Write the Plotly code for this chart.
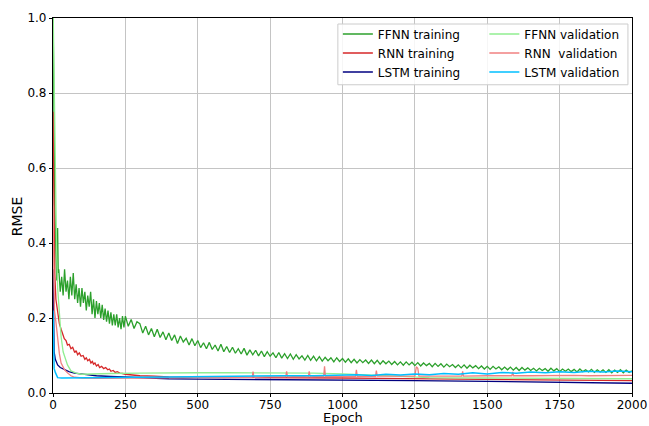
import plotly.graph_objects as go

# ---------------- data ----------------
ffnn_train_epochs = [0, 3, 6, 10, 13, 16, 18] + list(range(20, 250, 5)) + list(range(250, 2001, 10))
ffnn_train_rmse = [
    1.05, 0.75, 0.50, 0.38, 0.30, 0.44, 0.32,
    # 20 .. 245 (step 5)
    0.33, 0.27, 0.31, 0.26, 0.33, 0.27, 0.30, 0.25, 0.31, 0.26,
    0.32, 0.25, 0.29, 0.24, 0.28, 0.23, 0.28, 0.24, 0.27, 0.22,
    0.26, 0.23, 0.27, 0.21, 0.25, 0.20, 0.245, 0.21, 0.24, 0.20,
    0.235, 0.195, 0.225, 0.19, 0.22, 0.185, 0.215, 0.18, 0.21, 0.18,
    0.21, 0.175, 0.20, 0.17, 0.205, 0.175,
    # 250 .. 2000 (step 10)
    0.205, 0.178, 0.196, 0.172, 0.19,
    0.185, 0.16, 0.178, 0.155, 0.172, 0.15, 0.17, 0.148, 0.163, 0.142,
    0.16, 0.14, 0.155, 0.132, 0.152, 0.136, 0.146, 0.128, 0.145, 0.126,
    0.14, 0.121, 0.134, 0.118, 0.135, 0.116, 0.128, 0.112, 0.13, 0.11,
    0.124, 0.108, 0.122, 0.106, 0.118, 0.104, 0.119, 0.101, 0.115, 0.102,
    0.114, 0.099, 0.112, 0.097, 0.11, 0.098, 0.107, 0.094, 0.108, 0.093,
    0.105, 0.092, 0.104, 0.09, 0.102, 0.091, 0.099, 0.088, 0.1, 0.087,
    0.098, 0.086, 0.097, 0.085, 0.095, 0.086, 0.094, 0.083, 0.094, 0.084,
    0.092, 0.082, 0.091, 0.081, 0.09, 0.08, 0.089, 0.081, 0.088, 0.079,
    0.088, 0.078, 0.087, 0.077, 0.086, 0.078, 0.085, 0.076, 0.084, 0.075,
    0.083, 0.074, 0.083, 0.075, 0.082, 0.073, 0.081, 0.072, 0.08, 0.073,
    0.079, 0.07, 0.079, 0.071, 0.078, 0.069, 0.077, 0.07, 0.076, 0.068,
    0.075, 0.067, 0.075, 0.066, 0.074, 0.067, 0.073, 0.065, 0.072, 0.064,
    0.071, 0.063, 0.071, 0.064, 0.07, 0.062, 0.069, 0.062, 0.069, 0.061,
    0.068, 0.06, 0.068, 0.061, 0.067, 0.06, 0.066, 0.059, 0.066, 0.06,
    0.065, 0.058, 0.066, 0.059, 0.065, 0.057, 0.064, 0.058, 0.064, 0.057,
    0.063, 0.056, 0.064, 0.057, 0.062, 0.056, 0.063, 0.055, 0.062, 0.056,
    0.062, 0.055, 0.062, 0.054, 0.061, 0.055, 0.062, 0.054, 0.061, 0.055,
    0.059,
]

rnn_train_epochs = [0, 3, 6, 10, 16, 22, 28, 34, 39, 45, 50, 56, 62, 68, 75, 80, 85, 91, 97, 104,
                    110, 115, 120, 126, 131, 136, 140, 145, 150, 156, 161, 168, 175, 182, 189, 195,
                    200, 208, 215, 222, 231, 240, 250, 275, 300, 350, 400, 500, 600, 700, 800, 900,
                    1000, 1125, 1250, 1375, 1500, 1625, 1750, 1875, 2000]
rnn_train_rmse = [0.75, 0.45, 0.32, 0.25, 0.21, 0.185, 0.17, 0.155, 0.145, 0.14,
                  0.128, 0.13, 0.118, 0.122, 0.108, 0.113, 0.102, 0.107, 0.098, 0.10,
                  0.09, 0.094, 0.086, 0.09, 0.08, 0.084, 0.077, 0.08, 0.072, 0.076,
                  0.068, 0.071, 0.065, 0.068, 0.062, 0.064, 0.058, 0.06, 0.055, 0.057,
                  0.053, 0.052, 0.05, 0.048, 0.046, 0.045, 0.043, 0.042, 0.042, 0.041,
                  0.041, 0.040, 0.040, 0.039, 0.038, 0.037, 0.036, 0.035, 0.034, 0.034, 0.033]

lstm_train_epochs = [0, 2, 4, 8, 16, 25, 39, 55, 74, 100, 120, 150, 200, 300, 400, 500, 750,
                     1000, 1250, 1500, 1750, 2000]
lstm_train_rmse = [0.33, 0.18, 0.11, 0.09, 0.075, 0.068, 0.062, 0.057, 0.053, 0.05, 0.048, 0.046,
                   0.044, 0.04, 0.038, 0.037, 0.036, 0.035, 0.033, 0.031, 0.028, 0.026]

ffnn_val_epochs = [0, 4, 8, 12, 16, 22, 28, 35, 40, 50, 62, 80, 100, 150, 200, 300, 400, 500, 600,
                   700, 800, 900, 1000, 1100, 1200, 1300, 1500, 1750, 2000]
ffnn_val_rmse = [1.05, 0.80, 0.55, 0.40, 0.28, 0.20, 0.15, 0.11, 0.10, 0.075,
                 0.059, 0.053, 0.050, 0.050, 0.052, 0.053, 0.054, 0.054, 0.054, 0.054,
                 0.053, 0.053, 0.051, 0.047, 0.043, 0.041, 0.040, 0.039, 0.038]

rnn_val_epochs = [0, 3, 5, 10, 16, 22, 28, 40, 51, 62, 75, 100, 150, 200, 250, 300, 350, 400, 450,
                  500, 550, 600, 650, 688, 691, 694, 750, 804, 807, 810, 850, 882, 885, 888, 910,
                  935, 938, 941, 1000, 1045, 1048, 1051, 1080, 1114, 1117, 1120, 1180, 1250, 1255,
                  1260, 1264, 1300, 1350, 1412, 1415, 1418, 1500, 1585, 1588, 1591, 1650, 1700,
                  1750, 1800, 1850, 1900, 1950, 2000]
rnn_val_rmse = [0.50, 0.30, 0.22, 0.19, 0.14, 0.105, 0.08, 0.062, 0.053, 0.046,
                0.042, 0.040, 0.039, 0.039, 0.040, 0.040, 0.041, 0.040, 0.041, 0.041,
                0.042, 0.041, 0.042, 0.042, 0.057, 0.042, 0.043, 0.043, 0.058, 0.043,
                0.044, 0.043, 0.058, 0.043, 0.044, 0.044, 0.071, 0.044, 0.044, 0.044,
                0.062, 0.044, 0.045, 0.044, 0.060, 0.045, 0.045, 0.045, 0.070, 0.066,
                0.045, 0.045, 0.046, 0.045, 0.058, 0.045, 0.046, 0.046, 0.056, 0.046,
                0.046, 0.047, 0.046, 0.047, 0.046, 0.047, 0.047, 0.047]

lstm_val_epochs = [0, 2, 4, 8, 12, 16, 30, 60, 100, 150, 200, 300, 400, 500, 600, 700, 800, 900,
                   1000, 1050, 1100, 1150, 1200, 1250, 1300, 1350, 1400, 1450, 1500, 1550, 1600,
                   1650, 1700, 1750, 1800, 1850, 1900, 1950, 2000]
lstm_val_rmse = [0.22, 0.10, 0.065, 0.055, 0.045, 0.041, 0.040, 0.040, 0.040, 0.041,
                 0.041, 0.042, 0.043, 0.044, 0.045, 0.045, 0.046, 0.046, 0.047, 0.049,
                 0.047, 0.050, 0.048, 0.051, 0.049, 0.052, 0.050, 0.054, 0.051, 0.055,
                 0.053, 0.056, 0.054, 0.057, 0.055, 0.058, 0.056, 0.059, 0.057]

x_ticks = [0, 250, 500, 750, 1000, 1250, 1500, 1750, 2000]
y_ticks = [0.0, 0.2, 0.4, 0.6, 0.8, 1.0]

# (name, epochs, values, colour, legend id, width) in drawing order
series = [
    ("FFNN training", ffnn_train_epochs, ffnn_train_rmse, "#2ca02c", "legend", 1.3),
    ("RNN training", rnn_train_epochs, rnn_train_rmse, "#d62728", "legend", 1.3),
    ("LSTM training", lstm_train_epochs, lstm_train_rmse, "#000080", "legend", 1.3),
    ("FFNN validation", ffnn_val_epochs, ffnn_val_rmse, "#90ee90", "legend2", 1.3),
    ("RNN\u00a0 validation", rnn_val_epochs, rnn_val_rmse, "#f08080", "legend2", 1.3),
    ("LSTM validation", lstm_val_epochs, lstm_val_rmse, "#00bfff", "legend2", 1.5),
]

FONT = "DejaVu Sans, Arial, sans-serif"

fig = go.Figure()
for name, xs, ys, col, leg, w in series:
    n = min(len(xs), len(ys))
    fig.add_trace(go.Scatter(x=xs[:n], y=ys[:n], mode="lines", name=name,
                             line=dict(color=col, width=w), legend=leg))

axis_common = dict(showline=True, linecolor="black", linewidth=1.2, mirror=True,
                   ticks="outside", ticklen=3, tickcolor="black", tickwidth=1,
                   showgrid=True, gridcolor="#c4c4c4", gridwidth=1, zeroline=False,
                   tickfont=dict(family=FONT, size=12, color="black"))

leg_common = dict(orientation="v", yanchor="top", xanchor="left", y=0.996,
                  bgcolor="rgba(0,0,0,0)", borderwidth=0, itemwidth=30,
                  font=dict(family=FONT, size=12, color="black"), tracegroupgap=0)

fig.update_layout(
    width=649, height=426,
    margin=dict(l=53, r=17, t=18, b=33),
    paper_bgcolor="white", plot_bgcolor="white",
    font=dict(family=FONT, size=12, color="black"),
    showlegend=True,
    legend=dict(x=0.492, **leg_common),
    legend2=dict(x=0.745, **leg_common),
    shapes=[dict(type="rect", xref="paper", yref="paper", x0=0.492, x1=0.993, y0=0.822, y1=0.984,
                 line=dict(color="#cccccc", width=1), fillcolor="rgba(255,255,255,0.85)",
                 layer="above")],
    annotations=[
        dict(text="Epoch", xref="paper", yref="paper", x=0.5, y=-0.088, xanchor="center",
             yanchor="bottom", showarrow=False, borderpad=0,
             font=dict(family=FONT, size=13, color="black")),
        dict(text="RMSE", xref="paper", yref="paper", x=-0.063, y=0.47, xanchor="center",
             yanchor="middle", textangle=-90, showarrow=False,
             font=dict(family=FONT, size=14, color="black")),
    ],
)
fig.update_xaxes(range=[0, 2000], tickvals=x_ticks, ticktext=[str(v) for v in x_ticks],
                 automargin=False, ticklabelstandoff=-3, **axis_common)
fig.update_yaxes(range=[0, 1.0], tickvals=y_ticks, ticktext=[f"{v:.1f}" for v in y_ticks],
                 automargin=False, **axis_common)

fig.write_html("out.html")
